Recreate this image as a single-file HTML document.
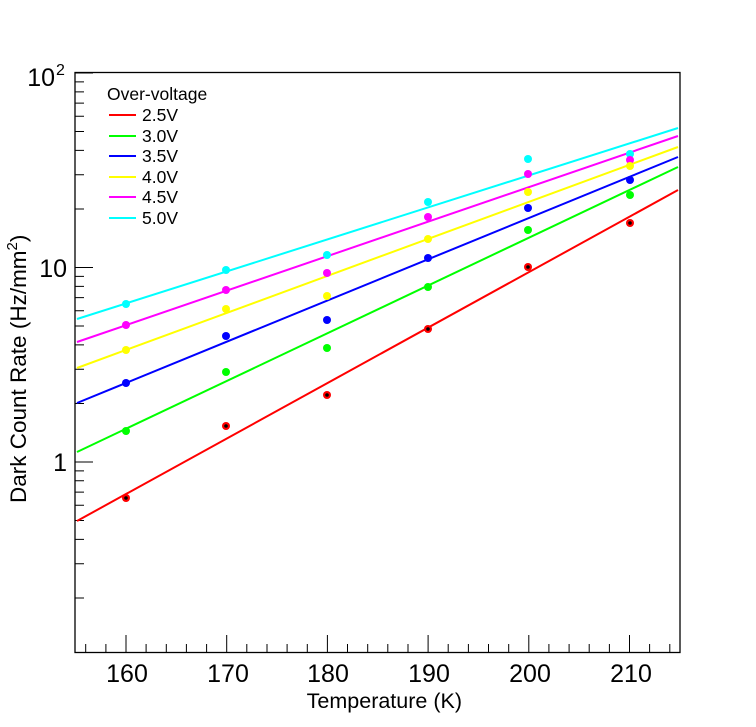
<!DOCTYPE html>
<html><head><style>body{margin:0;background:#fff}svg{display:block}text{font-family:"Liberation Sans",Arial,sans-serif}</style></head>
<body>
<svg width="756" height="727" viewBox="0 0 756 727" xmlns="http://www.w3.org/2000/svg">
<rect x="75" y="72.5" width="605" height="580" fill="none" stroke="#000" stroke-width="1.3"/>
<g stroke="#000" stroke-width="1">
<path d="M85.7 652v-8M105.9 652v-8M126 652v-17M146.1 652v-8M166.3 652v-8M186.4 652v-8M206.6 652v-8M226.7 652v-17M246.8 652v-8M267 652v-8M287.1 652v-8M307.3 652v-8M327.4 652v-17M347.5 652v-8M367.7 652v-8M387.8 652v-8M408 652v-8M428.1 652v-17M448.2 652v-8M468.4 652v-8M488.5 652v-8M508.7 652v-8M528.8 652v-17M548.9 652v-8M569.1 652v-8M589.2 652v-8M609.4 652v-8M629.5 652v-17M649.6 652v-8M669.8 652v-8"/>
<path d="M75 598h9M75 563.7h9M75 539.4h9M75 520.5h9M75 505.2h9M75 492.1h9M75 480.8h9M75 470.9h9M75 462h18M75 403.5h9M75 369.2h9M75 344.9h9M75 326h9M75 310.7h9M75 297.6h9M75 286.4h9M75 276.4h9M75 267.5h18M75 209h9M75 174.7h9M75 150.4h9M75 131.5h9M75 116.2h9M75 103.1h9M75 91.9h9M75 81.9h9M75 73h18"/>
</g>
<g font-size="25" fill="#000">
<text x="127" y="682" text-anchor="middle">160</text>
<text x="228" y="682" text-anchor="middle">170</text>
<text x="328" y="682" text-anchor="middle">180</text>
<text x="429" y="682" text-anchor="middle">190</text>
<text x="530" y="682" text-anchor="middle">200</text>
<text x="631" y="682" text-anchor="middle">210</text>
<text x="67" y="471" text-anchor="end">1</text>
<text x="67" y="277" text-anchor="end">10</text>
<text x="55" y="86" text-anchor="end">10</text><text x="56" y="75" font-size="16">2</text>
</g>
<text x="462" y="708" font-size="21.5" text-anchor="end">Temperature (K)</text>
<text transform="translate(26,503) rotate(-90)" font-size="22.5">Dark Count Rate (Hz/mm<tspan font-size="15" dy="-9">2</tspan><tspan dy="9">)</tspan></text>
<g font-size="17.5">
<text x="107" y="100">Over-voltage</text>
<g stroke-width="2">
<line x1="109" y1="115" x2="136" y2="115" stroke="#f00"/>
<line x1="109" y1="136" x2="136" y2="136" stroke="#0f0"/>
<line x1="109" y1="156" x2="136" y2="156" stroke="#00f"/>
<line x1="109" y1="177" x2="136" y2="177" stroke="#ff0"/>
<line x1="109" y1="197" x2="136" y2="197" stroke="#f0f"/>
<line x1="109" y1="218" x2="136" y2="218" stroke="#0ff"/>
</g>
<text x="142" y="121">2.5V</text><text x="142" y="142">3.0V</text><text x="142" y="162">3.5V</text>
<text x="142" y="183">4.0V</text><text x="142" y="203">4.5V</text><text x="142" y="224">5.0V</text>
</g>
<g stroke-width="2">
<line x1="77" y1="521" x2="678" y2="190" stroke="#f00"/>
<line x1="77" y1="452" x2="678" y2="167" stroke="#0f0"/>
<line x1="77" y1="403" x2="678" y2="157" stroke="#00f"/>
<line x1="77" y1="368" x2="678" y2="147" stroke="#ff0"/>
<line x1="77" y1="342" x2="678" y2="136" stroke="#f0f"/>
<line x1="77" y1="319" x2="678" y2="128" stroke="#0ff"/>
</g>
<g fill="#0ff"><circle cx="126" cy="304" r="4"/><circle cx="226" cy="270" r="4"/><circle cx="327" cy="255" r="4"/><circle cx="428" cy="202" r="4"/><circle cx="528" cy="159" r="4"/><circle cx="630" cy="154" r="4"/></g>
<g fill="#f0f"><circle cx="126" cy="325" r="4"/><circle cx="226" cy="290" r="4"/><circle cx="327" cy="273" r="4"/><circle cx="428" cy="217" r="4"/><circle cx="528" cy="174" r="4"/><circle cx="630" cy="160" r="4"/></g>
<g fill="#ff0"><circle cx="126" cy="350" r="4"/><circle cx="226" cy="309" r="4"/><circle cx="327" cy="296" r="4"/><circle cx="428" cy="239" r="4"/><circle cx="528" cy="192" r="4"/><circle cx="630" cy="166" r="4"/></g>
<g fill="#00f"><circle cx="126" cy="383" r="4"/><circle cx="226" cy="336" r="4"/><circle cx="327" cy="320" r="4"/><circle cx="428" cy="258" r="4"/><circle cx="528" cy="208" r="4"/><circle cx="630" cy="180" r="4"/></g>
<g fill="#0f0"><circle cx="126" cy="431" r="4"/><circle cx="226" cy="372" r="4"/><circle cx="327" cy="348" r="4"/><circle cx="428" cy="287" r="4"/><circle cx="528" cy="230" r="4"/><circle cx="630" cy="195" r="4"/></g>
<g fill="#f00"><circle cx="126" cy="498" r="4"/><circle cx="226" cy="426" r="4"/><circle cx="327" cy="395" r="4"/><circle cx="428" cy="329" r="4"/><circle cx="528" cy="267" r="4"/><circle cx="630" cy="223" r="4"/></g>
<g fill="#000"><circle cx="126" cy="498" r="1.8"/><circle cx="226" cy="426" r="1.8"/><circle cx="327" cy="395" r="1.8"/><circle cx="428" cy="329" r="1.8"/><circle cx="528" cy="267" r="1.8"/><circle cx="630" cy="223" r="1.8"/></g>
</svg>
</body></html>
